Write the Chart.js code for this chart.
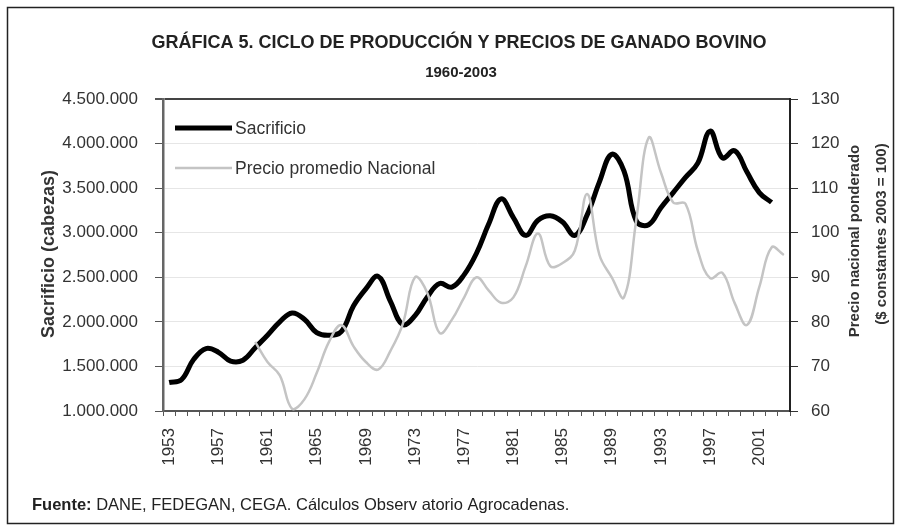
<!DOCTYPE html>
<html>
<head>
<meta charset="utf-8">
<script src="https://cdn.jsdelivr.net/npm/chart.js@4.4.0/dist/chart.umd.min.js"></script>
<style>
    html, body { margin: 0; padding: 0; background: #fff; }
    #wrap { width: 901px; height: 531px; position: relative; }
</style>
</head>
<body>
<div id="wrap"><canvas id="chart"></canvas></div>
<script>
const years = [
    '1953', '1954', '1955', '1956', '1957', '1958', '1959', '1960', '1961', '1962',
    '1963', '1964', '1965', '1966', '1967', '1968', '1969', '1970', '1971', '1972',
    '1973', '1974', '1975', '1976', '1977', '1978', '1979', '1980', '1981', '1982',
    '1983', '1984', '1985', '1986', '1987', '1988', '1989', '1990', '1991', '1992',
    '1993', '1994', '1995', '1996', '1997', '1998', '1999', '2000', '2001', '2002',
    '2003'
];

const tickYears = ['1953', '1957', '1961', '1965', '1969', '1973', '1977', '1981', '1985', '1989', '1993', '1997', '2001'];

// cabezas sacrificadas
const sacrificio = [
    1320000, 1350000, 1580000, 1700000, 1660000, 1560000, 1570000, 1710000, 1850000, 2000000,
    2100000, 2030000, 1880000, 1850000, 1890000, 2180000, 2370000, 2510000, 2230000, 1970000,
    2070000, 2280000, 2430000, 2390000, 2530000, 2770000, 3100000, 3380000, 3170000, 2970000,
    3140000, 3190000, 3120000, 2970000, 3200000, 3570000, 3880000, 3690000, 3130000, 3090000,
    3280000, 3450000, 3620000, 3780000, 4140000, 3840000, 3920000, 3680000, 3450000, 3340000,
    null
];

// precio nacional ponderado ($ constantes 2003 = 100)
const precio = [
    null, null, null, null, null, null, null, 75.5, 71, 68,
    60.5, 62.6, 68.5, 75.5, 79.3, 74.5, 71, 69.3, 73.5, 79.5,
    90, 86.5, 77.5, 80.5, 85.5, 90, 87, 84.3, 85.5, 92.5,
    99.8, 92.5, 93.2, 96, 108.7, 95, 90, 85.5, 103, 121.3,
    113.5, 106.8, 106.5, 96, 89.8, 91, 84.2, 79.3, 87.8, 96.7,
    95
];

const FONT = "'Liberation Sans', Arial, Helvetica, sans-serif";
Chart.defaults.font.family = FONT;

function formatMiles(v) {
    return String(v).replace(/\B(?=(\d{3})+(?!\d))/g, '.');
}

// title, legend, axis titles, source note and frame
const decorPlugin = {
    id: 'decor',
    beforeDraw(chart) {
        const c = chart.ctx;
        c.save();
        c.fillStyle = '#fff';
        c.fillRect(0, 0, chart.width, chart.height);
        c.strokeStyle = '#222';
        c.lineWidth = 1.5;
        c.strokeRect(7.5, 7.5, chart.width - 15, chart.height - 15);
        c.restore();
    },
    afterDraw(chart) {
        const c = chart.ctx;
        const area = chart.chartArea;
        c.save();
        c.fillStyle = '#222';
        c.textAlign = 'center';
        c.textBaseline = 'middle';

        c.font = 'bold 18px ' + FONT;
        c.fillText('GRÁFICA 5. CICLO DE PRODUCCIÓN Y PRECIOS DE GANADO BOVINO', 459, 43);
        c.font = 'bold 15px ' + FONT;
        c.fillText('1960-2003', 461, 73);

        // axis titles
        c.fillStyle = '#333';
        c.save();
        c.translate(49, 254);
        c.rotate(-Math.PI / 2);
        c.font = 'bold 18px ' + FONT;
        c.fillText('Sacrificio (cabezas)', 0, 0);
        c.restore();

        c.font = 'bold 15px ' + FONT;
        c.save();
        c.translate(855, 241);
        c.rotate(-Math.PI / 2);
        c.fillText('Precio nacional ponderado', 0, 0);
        c.restore();
        c.save();
        c.translate(882, 234);
        c.rotate(-Math.PI / 2);
        c.fillText('($ constantes 2003 = 100)', 0, 0);
        c.restore();

        // legend inside plot
        const lx = area.left + 12;
        c.lineCap = 'butt';
        c.strokeStyle = '#000';
        c.lineWidth = 5;
        c.beginPath();
        c.moveTo(lx, area.top + 29);
        c.lineTo(lx + 57, area.top + 29);
        c.stroke();
        c.strokeStyle = '#c4c4c4';
        c.lineWidth = 2.5;
        c.beginPath();
        c.moveTo(lx, area.top + 69);
        c.lineTo(lx + 57, area.top + 69);
        c.stroke();
        c.textAlign = 'left';
        c.font = '17.5px ' + FONT;
        c.fillText('Sacrificio', lx + 60, area.top + 30);
        c.fillText('Precio promedio Nacional', lx + 60, area.top + 70);

        // source
        c.fillStyle = '#222';
        c.font = 'bold 16.5px ' + FONT;
        const lead = 'Fuente:';
        c.fillText(lead, 32, 505);
        const w = c.measureText(lead).width;
        c.font = '16.5px ' + FONT;
        c.fillText(' DANE, FEDEGAN, CEGA. Cálculos Observ atorio Agrocadenas.', 32 + w, 505);
        c.restore();
    }
};

new Chart(document.getElementById('chart'), {
    type: 'line',
    data: {
        labels: years,
        datasets: [
            {
                label: 'Sacrificio',
                data: sacrificio,
                yAxisID: 'y',
                borderColor: '#000',
                borderWidth: 5,
                tension: 0.4,
                pointRadius: 0,
                order: 1
            },
            {
                label: 'Precio promedio Nacional',
                data: precio,
                yAxisID: 'y1',
                borderColor: '#c4c4c4',
                borderWidth: 2.5,
                tension: 0.4,
                pointRadius: 0,
                order: 0
            }
        ]
    },
    options: {
        responsive: true,
        maintainAspectRatio: false,
        animation: false,
        devicePixelRatio: 1,
        layout: { padding: { top: 99, left: 0, right: 0, bottom: 0 } },
        plugins: {
            legend: { display: false },
            title: { display: false },
            tooltip: { enabled: false }
        },
        scales: {
            x: {
                type: 'category',
                offset: true,
                grid: {
                    offset: true,
                    drawOnChartArea: false,
                    drawTicks: true,
                    tickLength: 5,
                    color: '#555',
                    tickColor: '#555'
                },
                border: { display: true, color: '#555', width: 2 },
                ticks: {
                    autoSkip: false,
                    minRotation: 90,
                    maxRotation: 90,
                    padding: 12,
                    color: '#333',
                    font: { size: 17 },
                    callback: function (val) {
                        const lbl = this.getLabelForValue(val);
                        return tickYears.includes(lbl) ? lbl : '';
                    }
                },
                afterFit: (s) => { s.height = 120; }
            },
            y: {
                position: 'left',
                min: 1000000,
                max: 4500000,
                grid: {
                    color: (ctx) => ctx.tick && ctx.tick.value === 4500000 ? '#444' : '#e6e6e6',
                    lineWidth: (ctx) => ctx.tick && ctx.tick.value === 4500000 ? 2 : 1,
                    tickColor: '#555',
                    tickLength: 8
                },
                border: { display: true, color: '#666', width: 2.5 },
                ticks: {
                    stepSize: 500000,
                    padding: 17,
                    color: '#333',
                    font: { size: 17 },
                    callback: (v) => formatMiles(v)
                },
                afterFit: (s) => { s.width = 163; }
            },
            y1: {
                position: 'right',
                min: 60,
                max: 130,
                grid: {
                    drawOnChartArea: false,
                    tickColor: '#333',
                    tickLength: 8
                },
                border: { display: true, color: '#222', width: 2 },
                ticks: {
                    stepSize: 10,
                    padding: 13,
                    color: '#333',
                    font: { size: 17 }
                },
                afterFit: (s) => { s.width = 111; }
            }
        }
    },
    plugins: [decorPlugin]
});
</script>
</body>
</html>
